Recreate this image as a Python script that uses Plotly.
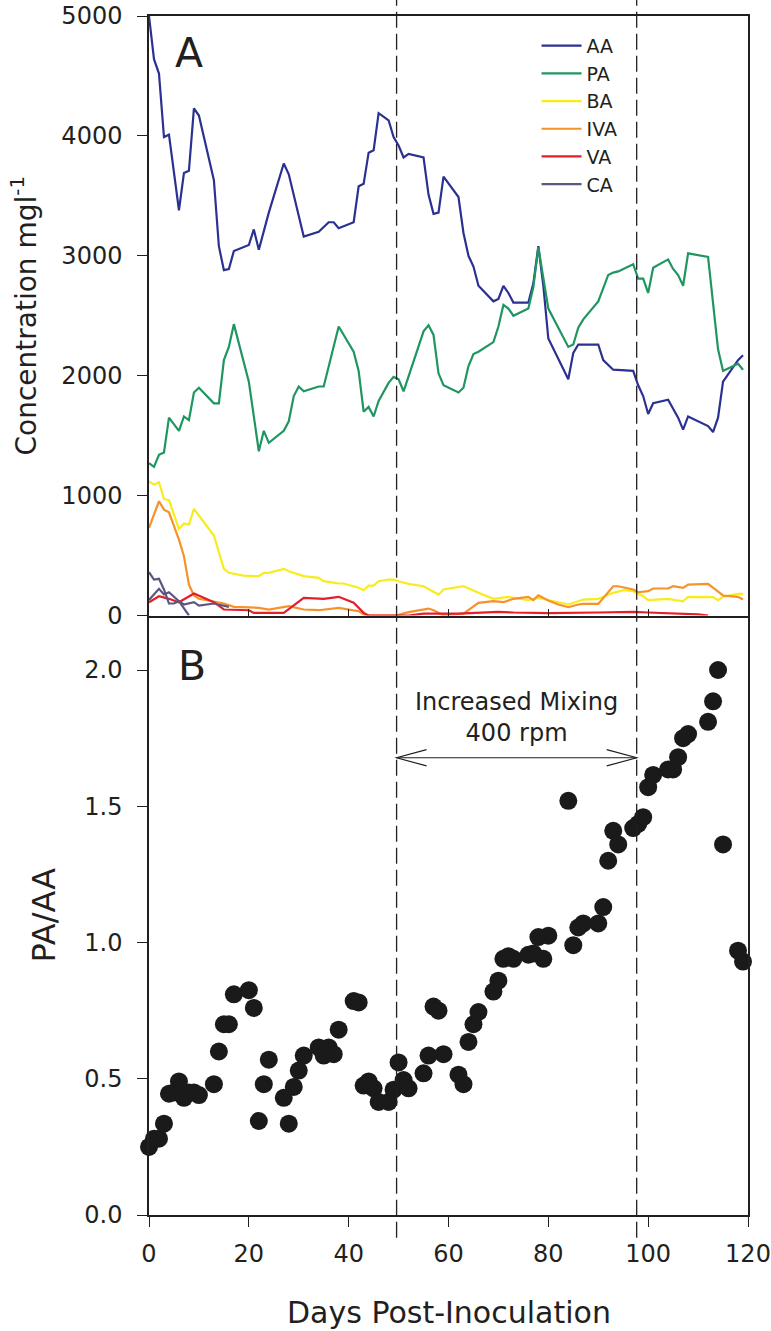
import plotly.graph_objects as go

# ---------------- data ----------------
days_aa = [0, 1, 2, 3, 4, 6, 7, 8, 9, 10, 13, 14, 15, 16, 17, 20, 21, 22, 24, 27, 28, 31, 34, 36, 37, 38,
           41, 42, 43, 44, 45, 46, 48, 49, 50, 51, 52, 55, 56, 57, 58, 59, 62, 63, 64, 65, 66, 69, 70, 71,
           72, 73, 76, 77, 78, 79, 80, 84, 85, 86, 90, 91, 93, 97, 98, 99, 100, 101, 104, 106, 107, 108,
           112, 113, 114, 115, 118, 119]
aa = [5000, 4640, 4520, 3990, 4010, 3380, 3690, 3710, 4230, 4170, 3630, 3080, 2880, 2890, 3040, 3090,
      3220, 3050, 3360, 3770, 3680, 3160, 3200, 3280, 3280, 3230, 3280, 3580, 3600, 3860, 3880, 4190,
      4130, 3990, 3920, 3820, 3850, 3820, 3510, 3350, 3360, 3660, 3490, 3190, 3000, 2910, 2750, 2620,
      2640, 2750, 2690, 2610, 2610, 2770, 3080, 2750, 2310, 1970, 2190, 2260, 2260, 2130, 2050, 2040,
      1920, 1830, 1680, 1770, 1800, 1650, 1550, 1660, 1580, 1530, 1650, 1950, 2130, 2170]

days_pa = [0, 1, 2, 3, 4, 6, 7, 8, 9, 10, 13, 14, 15, 16, 17, 20, 22, 23, 24, 27, 28, 29, 30, 31, 34, 35,
           38, 41, 42, 43, 44, 45, 46, 48, 49, 50, 51, 55, 56, 57, 58, 59, 62, 63, 64, 65, 66, 69, 70, 71,
           72, 73, 76, 77, 78, 80, 84, 85, 86, 87, 90, 92, 93, 94, 97, 98, 99, 100, 101, 104, 105, 106,
           107, 108, 112, 113, 114, 115, 118, 119]
pa = [1270, 1240, 1340, 1360, 1650, 1540, 1660, 1630, 1860, 1900, 1770, 1770, 2130, 2240, 2430, 1950,
      1370, 1540, 1440, 1540, 1620, 1830, 1910, 1870, 1910, 1910, 2410, 2200, 2040, 1700, 1740, 1660,
      1790, 1940, 1990, 1970, 1870, 2370, 2420, 2340, 2020, 1920, 1860, 1900, 2080, 2180, 2200, 2280,
      2410, 2590, 2560, 2500, 2560, 2740, 3070, 2560, 2240, 2260, 2400, 2470, 2620, 2840, 2860, 2870,
      2930, 2810, 2810, 2690, 2900, 2970, 2890, 2840, 2750, 3020, 2990, 2630, 2220, 2040, 2100, 2050]

days_ba = [0, 1, 2, 3, 4, 6, 7, 8, 9, 13, 15, 16, 19, 21, 22, 23, 24, 27, 28, 31, 34, 35, 38, 39, 42, 43,
           44, 45, 46, 48, 49, 50, 52, 55, 58, 59, 63, 66, 69, 72, 76, 78, 84, 87, 90, 93, 95, 97, 99,
           100, 104, 107, 108, 113, 114, 115, 118, 119]
ba = [1119, 1092, 1111, 972, 961, 722, 767, 758, 889, 667, 389, 356, 333, 333, 328, 356, 356, 389, 369,
      328, 314, 286, 267, 267, 231, 211, 250, 250, 286, 300, 300, 286, 264, 244, 175, 217, 244, 189,
      139, 156, 128, 147, 92, 133, 139, 189, 211, 203, 161, 128, 139, 119, 156, 153, 128, 156, 181, 181]

days_iva = [0, 2, 3, 4, 6, 7, 8, 9, 10, 13, 15, 17, 20, 22, 24, 27, 28, 31, 34, 38, 41, 42, 43, 44, 49,
            50, 52, 56, 57, 58, 59, 63, 66, 69, 71, 73, 76, 77, 78, 80, 82, 84, 86, 87, 90, 93, 94, 97,
            98, 100, 101, 104, 105, 107, 108, 112, 115, 118, 119]
iva = [731, 953, 883, 861, 633, 494, 258, 167, 139, 119, 100, 72, 64, 64, 50, 72, 78, 50, 44, 64, 44,
       36, 8, 0, 0, 5, 28, 58, 44, 22, 0, 15, 106, 119, 111, 139, 156, 128, 169, 125, 92, 69, 92, 97,
       97, 244, 244, 217, 194, 203, 225, 225, 244, 231, 258, 264, 167, 156, 133]

days_va = [0, 2, 4, 6, 9, 13, 15, 20, 21, 27, 31, 35, 38, 41, 43, 44, 52, 55, 62, 70, 73, 80, 90, 97,
           100, 105, 110, 112]
va = [111, 161, 139, 111, 183, 111, 50, 44, 22, 22, 147, 139, 156, 106, 22, 0, 0, 15, 15, 30, 25, 20,
      25, 30, 25, 20, 10, 0]

days_ca = [0, 1, 2, 3, 4, 5, 6, 7, 9, 10, 13, 14, 16]
ca = [361, 300, 306, 217, 100, 100, 119, 92, 111, 83, 100, 92, 72]
days_ca2 = [0, 2, 3, 4, 6, 8]
ca2 = [130, 222, 175, 194, 119, 0]

days_ratio = [0, 1, 2, 3, 4, 5, 6, 7, 8, 9, 10, 13, 14, 15, 16, 17, 20, 21, 22, 23, 24, 27, 28, 29, 30,
              31, 34, 35, 36, 37, 38, 41, 42, 43, 44, 45, 46, 48, 49, 50, 51, 52, 55, 56, 57, 58, 59,
              62, 63, 64, 65, 66, 69, 70, 71, 72, 73, 76, 77, 78, 79, 80, 84, 85, 86, 87, 90, 91, 92,
              93, 94, 97, 98, 99, 100, 101, 104, 105, 106, 107, 108, 112, 113, 114, 115, 118, 119]
pa_aa = [0.25, 0.28, 0.28, 0.335, 0.445, 0.45, 0.49, 0.43, 0.45, 0.45, 0.44, 0.48, 0.60, 0.70, 0.70,
         0.81, 0.825, 0.76, 0.345, 0.48, 0.57, 0.43, 0.335, 0.47, 0.53, 0.585, 0.615, 0.585, 0.615,
         0.59, 0.68, 0.785, 0.78, 0.475, 0.49, 0.465, 0.415, 0.415, 0.46, 0.56, 0.495, 0.465, 0.52,
         0.585, 0.765, 0.75, 0.59, 0.515, 0.48, 0.635, 0.70, 0.745, 0.82, 0.86, 0.94, 0.95, 0.94,
         0.955, 0.96, 1.02, 0.94, 1.025, 1.52, 0.99, 1.055, 1.07, 1.07, 1.13, 1.30, 1.41, 1.36, 1.42,
         1.435, 1.46, 1.57, 1.615, 1.635, 1.635, 1.68, 1.75, 1.765, 1.81, 1.885, 2.0, 1.36, 0.97, 0.93]

mix_start = 49.6
mix_end = 97.7
x_ticks = [0, 20, 40, 60, 80, 100, 120]

# ---------------- styling ----------------
FONT = "DejaVu Sans"
INK = "#231f20"
colors = {"AA": "#2b3191", "PA": "#1f9660", "BA": "#f8ec1c", "IVA": "#f5922a",
          "VA": "#e51f2a", "CA": "#5c5683"}

fig = go.Figure()
series = [("AA", days_aa, aa), ("PA", days_pa, pa), ("BA", days_ba, ba),
          ("IVA", days_iva, iva), ("VA", days_va, va), ("CA", days_ca, ca)]
for name, xs, ys in series:
    fig.add_trace(go.Scatter(x=xs, y=ys, mode="lines", name=name, legendgroup=name,
                             line=dict(color=colors[name], width=2.2), xaxis="x", yaxis="y"))
fig.add_trace(go.Scatter(x=days_ca2, y=ca2, mode="lines", name="CA", legendgroup="CA",
                         showlegend=False, line=dict(color=colors["CA"], width=2.2),
                         xaxis="x", yaxis="y"))

fig.add_trace(go.Scatter(x=days_ratio, y=pa_aa, mode="markers", showlegend=False,
                         marker=dict(color="#1a1a1a", size=18, line=dict(width=0)),
                         cliponaxis=False, xaxis="x2", yaxis="y2"))

axis_common = dict(showgrid=False, zeroline=False, showline=True, linecolor=INK,
                   tickcolor=INK, tickwidth=1.3, automargin=False,
                   tickfont=dict(size=24, color=INK, family=FONT))

fig.update_layout(
    width=771, height=1331,
    margin=dict(l=149, r=23, t=16, b=116, autoexpand=False),
    paper_bgcolor="white", plot_bgcolor="white",
    font=dict(family=FONT, color=INK),
    xaxis=dict(domain=[0, 1], range=[0, 120], anchor="y", ticks="inside", ticklen=7,
               tickvals=x_ticks, showticklabels=False, mirror=True, linewidth=2,
               **axis_common),
    yaxis=dict(domain=[0.5, 1], range=[0, 5000], anchor="x", ticks="outside", ticklen=10,
               tickvals=[0, 1000, 2000, 3000, 4000, 5000], mirror=True, ticklabelstandoff=10,
               linewidth=1.5, **axis_common),
    xaxis2=dict(domain=[0, 1], range=[0, 120], anchor="y2", ticks="outside", ticklen=10,
                tickvals=x_ticks, ticklabelstandoff=6, linewidth=1.5, **axis_common),
    yaxis2=dict(domain=[0, 0.5], range=[0, 2.2], anchor="x2", ticks="outside", ticklen=10,
                tickvals=[0, 0.5, 1.0, 1.5, 2.0], tickformat=".1f", mirror=True,
                ticklabelstandoff=10, linewidth=1.5, **axis_common),
    legend=dict(x=0.647, y=0.991, xanchor="left", yanchor="top", bgcolor="rgba(0,0,0,0)",
                font=dict(size=19, color=INK, family=FONT), tracegroupgap=0, itemwidth=40),
    showlegend=True,
)

# dashed vertical lines marking the mixing period (span both panels)
for xv in (mix_start, mix_end):
    fig.add_shape(type="line", xref="x", yref="paper", x0=xv, x1=xv, y0=-0.019, y1=1.0135,
                  line=dict(color=INK, width=1.3, dash="16px,6px"))

# double-headed arrow in panel B
arrow_y = 1.678
head_len = 6.0
head_h = 0.03
fig.add_shape(type="line", xref="x2", yref="y2", x0=mix_start, x1=mix_end, y0=arrow_y, y1=arrow_y,
              line=dict(color=INK, width=1.2))
fig.add_shape(type="path", xref="x2", yref="y2",
              path=f"M {mix_start + head_len},{arrow_y + head_h} L {mix_start},{arrow_y} "
                   f"L {mix_start + head_len},{arrow_y - head_h}",
              line=dict(color=INK, width=1.2))
fig.add_shape(type="path", xref="x2", yref="y2",
              path=f"M {mix_end - head_len},{arrow_y + head_h} L {mix_end},{arrow_y} "
                   f"L {mix_end - head_len},{arrow_y - head_h}",
              line=dict(color=INK, width=1.2))

annotations = [
    dict(text="A", x=8.06, y=4692, xref="x", yref="y", font=dict(size=41)),
    dict(text="B", x=8.7, y=2.015, xref="x2", yref="y2", font=dict(size=41)),
    dict(text="Increased Mixing<br>400 rpm", x=(mix_start + mix_end) / 2, y=1.824,
         xref="x2", yref="y2", font=dict(size=24)),
    dict(text="Concentration mgl<sup>-1</sup>", x=-0.2075, y=0.75, xref="paper", yref="paper",
         textangle=-90, font=dict(size=28)),
    dict(text="PA/AA", x=-0.175, y=0.25, xref="paper", yref="paper", textangle=-90,
         font=dict(size=32)),
    dict(text="Days Post-Inoculation", x=0.5, y=-0.081, xref="paper", yref="paper",
         font=dict(size=30)),
]
for a in annotations:
    a.setdefault("showarrow", False)
    a["xanchor"] = "center"
    a["yanchor"] = "middle"
    a["font"]["color"] = INK
    a["font"]["family"] = FONT
    fig.add_annotation(**a)

# remove the default page margin so the figure sits at the window's top-left corner
fig.write_html("out.html", config={"displayModeBar": False},
               post_script="document.body.style.margin='0px';")
